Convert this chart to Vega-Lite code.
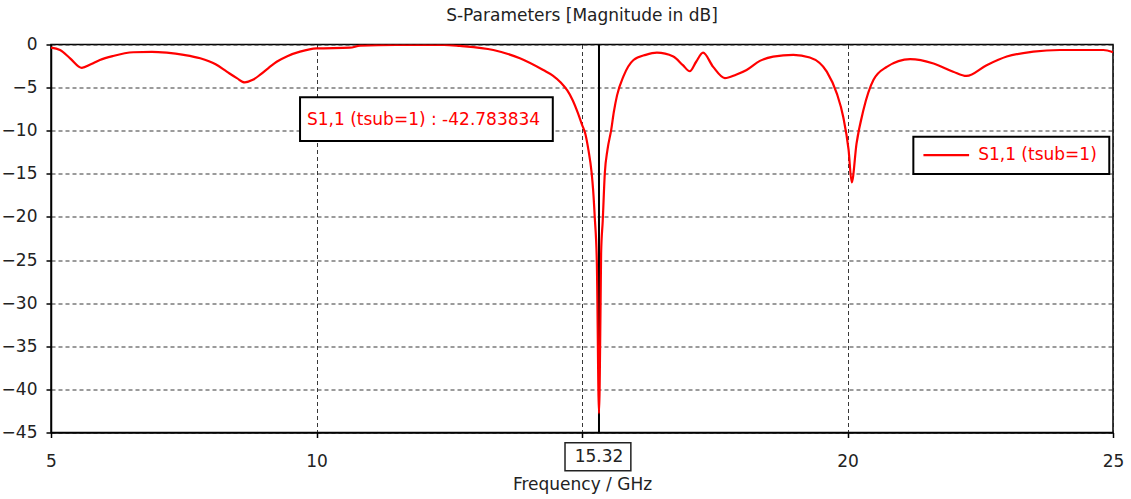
{
  "$schema": "https://vega.github.io/schema/vega-lite/v6.json",
  "width": 1062,
  "height": 388,
  "autosize": {"type": "none"},
  "padding": {"left": 51, "top": 44.5, "right": 18, "bottom": 66.5},
  "background": "white",
  "title": {
    "text": "S-Parameters [Magnitude in dB]",
    "font": "DejaVu Sans",
    "fontSize": 17,
    "fontWeight": "normal",
    "color": "#222222",
    "anchor": "middle",
    "offset": 11
  },
  "config": {
    "view": {"stroke": "#000000", "strokeWidth": 1.5},
    "axis": {
      "labelFont": "DejaVu Sans",
      "titleFont": "DejaVu Sans",
      "labelFontSize": 17,
      "titleFontSize": 17,
      "titleFontWeight": "normal",
      "labelColor": "#222222",
      "titleColor": "#222222",
      "domainColor": "#000000",
      "domainWidth": 1.5,
      "tickColor": "#000000",
      "tickWidth": 1.5,
      "tickSize": 5,
      "gridColor": "#222222",
      "gridWidth": 1,
      "gridDash": [4, 3],
      "gridOpacity": 0.9,
      "labelFlush": false,
      "labelOverlap": false,
      "labelBound": false
    }
  },
  "datasets": {
    "curve": [
      {"f": 5.0, "db": -0.37},
      {"f": 5.17, "db": -0.64},
      {"f": 5.36, "db": -1.6},
      {"f": 5.58, "db": -2.7},
      {"f": 5.75, "db": -2.3},
      {"f": 5.92, "db": -1.8},
      {"f": 6.17, "db": -1.33},
      {"f": 6.55, "db": -0.9},
      {"f": 6.9, "db": -0.85},
      {"f": 7.18, "db": -0.95},
      {"f": 7.5, "db": -1.2},
      {"f": 7.81, "db": -1.6},
      {"f": 8.1, "db": -2.3},
      {"f": 8.31, "db": -3.15},
      {"f": 8.5, "db": -3.9},
      {"f": 8.65, "db": -4.4},
      {"f": 8.8, "db": -4.1},
      {"f": 8.94, "db": -3.5},
      {"f": 9.1, "db": -2.7},
      {"f": 9.25, "db": -2.0},
      {"f": 9.45, "db": -1.35},
      {"f": 9.69, "db": -0.83},
      {"f": 10.0, "db": -0.45},
      {"f": 10.63, "db": -0.37},
      {"f": 10.82, "db": -0.14},
      {"f": 11.5, "db": -0.05},
      {"f": 12.4, "db": -0.05},
      {"f": 12.7, "db": -0.17},
      {"f": 13.33, "db": -0.64},
      {"f": 13.83, "db": -1.6},
      {"f": 14.27, "db": -2.96},
      {"f": 14.45, "db": -3.6},
      {"f": 14.6, "db": -4.4},
      {"f": 14.72, "db": -5.3},
      {"f": 14.82, "db": -6.4},
      {"f": 14.92, "db": -7.9},
      {"f": 15.0, "db": -9.3},
      {"f": 15.06, "db": -10.3},
      {"f": 15.12, "db": -12.2},
      {"f": 15.18, "db": -14.8},
      {"f": 15.21, "db": -16.9},
      {"f": 15.24, "db": -20.0},
      {"f": 15.28, "db": -25.4},
      {"f": 15.32, "db": -42.783834},
      {"f": 15.35, "db": -30.0},
      {"f": 15.36, "db": -24.2},
      {"f": 15.39, "db": -20.5},
      {"f": 15.43, "db": -14.9},
      {"f": 15.48, "db": -12.2},
      {"f": 15.55, "db": -9.9},
      {"f": 15.6, "db": -7.8},
      {"f": 15.66, "db": -5.9},
      {"f": 15.78, "db": -3.7},
      {"f": 15.97, "db": -1.8},
      {"f": 16.2, "db": -1.2},
      {"f": 16.41, "db": -0.95},
      {"f": 16.72, "db": -1.4},
      {"f": 16.9, "db": -2.4},
      {"f": 17.03, "db": -3.1},
      {"f": 17.15, "db": -2.0},
      {"f": 17.28, "db": -0.95},
      {"f": 17.47, "db": -2.6},
      {"f": 17.69, "db": -3.9},
      {"f": 17.9, "db": -3.5},
      {"f": 18.1, "db": -2.95},
      {"f": 18.35, "db": -1.9},
      {"f": 18.6, "db": -1.4},
      {"f": 18.98, "db": -1.2},
      {"f": 19.29, "db": -1.5},
      {"f": 19.61, "db": -3.15},
      {"f": 19.8, "db": -5.7},
      {"f": 19.92, "db": -8.4},
      {"f": 20.02, "db": -12.2},
      {"f": 20.08, "db": -16.0},
      {"f": 20.17, "db": -11.5},
      {"f": 20.3, "db": -7.6},
      {"f": 20.49, "db": -4.1},
      {"f": 20.74, "db": -2.6},
      {"f": 21.18, "db": -1.7},
      {"f": 21.62, "db": -2.2},
      {"f": 21.99, "db": -3.15},
      {"f": 22.24, "db": -3.65},
      {"f": 22.62, "db": -2.4},
      {"f": 23.0, "db": -1.4},
      {"f": 23.5, "db": -0.83},
      {"f": 24.0, "db": -0.64},
      {"f": 24.82, "db": -0.64},
      {"f": 25.0, "db": -0.9}
    ],
    "marker": [{"f": 15.32, "label": "15.32", "x1": 14.68, "x2": 15.92, "y1": -46.19, "y2": -49.44, "ty": -47.85}],
    "annot": [{"x1": 9.69, "x2": 14.45, "y1": -6.13, "y2": -11.19, "tx": 9.82, "ty": -8.7, "label": "S1,1 (tsub=1) : -42.783834"}],
    "legend": [{"x1": 21.24, "x2": 24.93, "y1": -10.7, "y2": -15.02, "lx1": 21.43, "lx2": 22.29, "ly": -12.82, "tx": 22.46, "label": "S1,1 (tsub=1)"}]
  },
  "layer": [
    {
      "data": {"name": "marker"},
      "mark": {"type": "rule", "color": "#000000", "strokeWidth": 2},
      "encoding": {
        "x": {
          "field": "f",
          "type": "quantitative",
          "scale": {"domain": [5, 25], "nice": false, "zero": false},
          "axis": {
            "values": [5, 10, 15, 20, 25],
            "labelExpr": "datum.value == 15 ? '' : datum.label",
            "title": "Frequency / GHz",
            "labelPadding": 16,
            "titlePadding": 7
          }
        }
      }
    },
    {
      "data": {"name": "curve"},
      "mark": {"type": "line", "color": "#ff0000", "strokeWidth": 2.2, "clip": true, "interpolate": "monotone"},
      "encoding": {
        "x": {"field": "f", "type": "quantitative"},
        "y": {
          "field": "db",
          "type": "quantitative",
          "scale": {"domain": [-45, 0], "nice": false, "zero": false},
          "axis": {
            "values": [-45, -40, -35, -30, -25, -20, -15, -10, -5, 0],
            "title": null,
            "labelPadding": 9
          }
        }
      }
    },
    {
      "data": {"name": "annot"},
      "mark": {"type": "rect", "fill": "#ffffff", "stroke": "#000000", "strokeWidth": 2},
      "encoding": {
        "x": {"field": "x1", "type": "quantitative"},
        "x2": {"field": "x2"},
        "y": {"field": "y1", "type": "quantitative"},
        "y2": {"field": "y2"}
      }
    },
    {
      "data": {"name": "annot"},
      "mark": {"type": "text", "color": "#ff0000", "font": "DejaVu Sans", "fontSize": 17, "align": "left", "baseline": "middle"},
      "encoding": {
        "x": {"field": "tx", "type": "quantitative"},
        "y": {"field": "ty", "type": "quantitative"},
        "text": {"field": "label"}
      }
    },
    {
      "data": {"name": "legend"},
      "mark": {"type": "rect", "fill": "#ffffff", "stroke": "#000000", "strokeWidth": 2},
      "encoding": {
        "x": {"field": "x1", "type": "quantitative"},
        "x2": {"field": "x2"},
        "y": {"field": "y1", "type": "quantitative"},
        "y2": {"field": "y2"}
      }
    },
    {
      "data": {"name": "legend"},
      "mark": {"type": "rule", "color": "#ff0000", "strokeWidth": 2.2},
      "encoding": {
        "x": {"field": "lx1", "type": "quantitative"},
        "x2": {"field": "lx2"},
        "y": {"field": "ly", "type": "quantitative"}
      }
    },
    {
      "data": {"name": "legend"},
      "mark": {"type": "text", "color": "#ff0000", "font": "DejaVu Sans", "fontSize": 17, "align": "left", "baseline": "middle"},
      "encoding": {
        "x": {"field": "tx", "type": "quantitative"},
        "y": {"field": "ly", "type": "quantitative"},
        "text": {"field": "label"}
      }
    },
    {
      "data": {"name": "marker"},
      "mark": {"type": "rect", "fill": "#ffffff", "stroke": "#222222", "strokeWidth": 1.5},
      "encoding": {
        "x": {"field": "x1", "type": "quantitative"},
        "x2": {"field": "x2"},
        "y": {"field": "y1", "type": "quantitative"},
        "y2": {"field": "y2"}
      }
    },
    {
      "data": {"name": "marker"},
      "mark": {"type": "text", "color": "#222222", "font": "DejaVu Sans", "fontSize": 17, "align": "center", "baseline": "middle"},
      "encoding": {
        "x": {"field": "f", "type": "quantitative"},
        "y": {"field": "ty", "type": "quantitative"},
        "text": {"field": "label"}
      }
    }
  ]
}
